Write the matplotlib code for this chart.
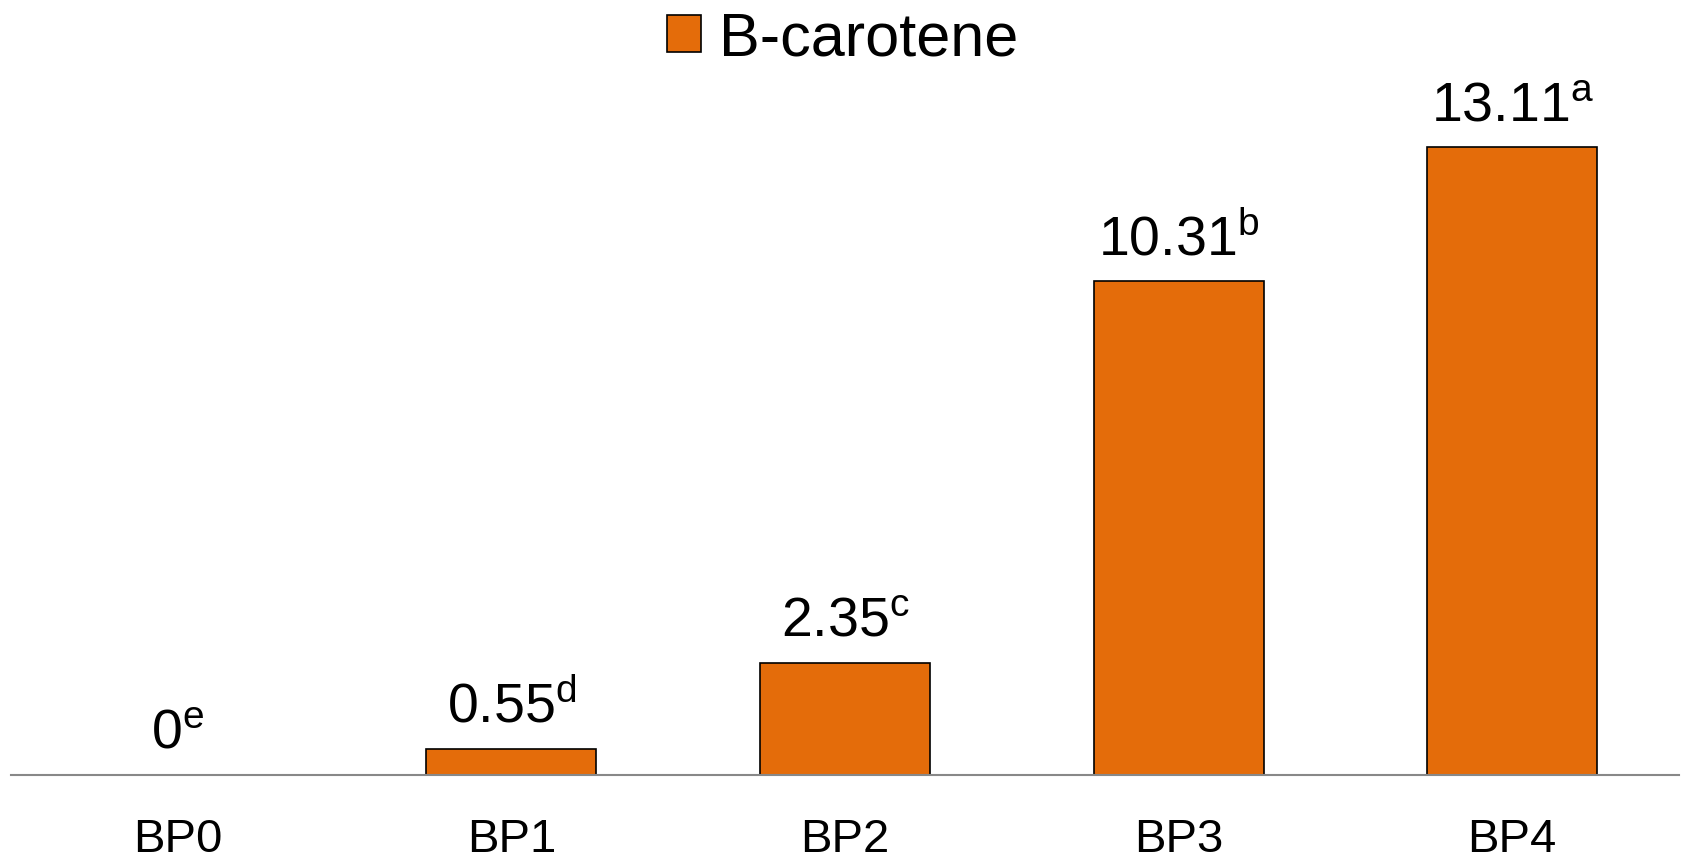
import numpy as np
import matplotlib.pyplot as plt

plt.rcParams['font.family'] = ['Liberation Sans', 'DejaVu Sans']
plt.rcParams['mathtext.fontset'] = 'custom'
plt.rcParams['mathtext.rm'] = 'Liberation Sans'
plt.rcParams['mathtext.it'] = 'Liberation Sans'

# data
groups = ['BP0', 'BP1', 'BP2', 'BP3', 'BP4']
carotene = [0, 0.55, 2.35, 10.31, 13.11]
letters = ['e', 'd', 'c', 'b', 'a']

fig = plt.figure(figsize=(16.85, 8.62), dpi=100)
ax = fig.add_axes([11/1685, 86/862, 1668/1685, 718/862])

x = np.arange(len(groups))
bars = ax.bar(x, carotene, width=0.51, color='#E46C0A', edgecolor='black',
              linewidth=1.2, label='B-carotene', zorder=2)

for xi, v, s in zip(x, carotene, letters):
    txt = f'{v:g}' if v == 0 else f'{v:.2f}'
    ax.annotate(r'$\mathregular{' + txt + '^{' + s + '}}$', (xi, v),
                xytext=(0, 11), textcoords='offset points',
                ha='center', va='bottom', fontsize=40)

ax.set_xlim(-0.5, 4.5)
ax.set_ylim(0, 15)
ax.set_xticks(x)
ax.set_xticklabels(groups, fontsize=34)
ax.tick_params(axis='x', length=0, pad=30)
ax.set_yticks([])
for sp in ['top', 'right', 'left']:
    ax.spines[sp].set_visible(False)
ax.spines['bottom'].set_color('#888888')
ax.spines['bottom'].set_linewidth(1.5)

fig.legend(loc='upper center', bbox_to_anchor=(0.5, 1.05), frameon=False,
           fontsize=44, handlelength=0.55, handleheight=0.55, handletextpad=0.3)

fig.savefig('out.png', dpi=100)
